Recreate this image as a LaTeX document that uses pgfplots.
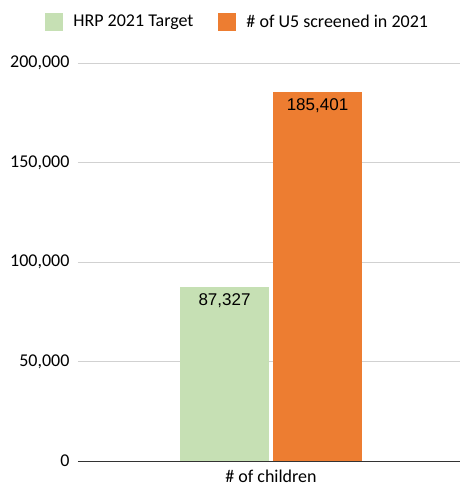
\documentclass[border=0pt]{standalone}
\usepackage{fontspec}
\setmainfont{Carlito}
\newfontfamily\arialfont{Liberation Sans}
\usepackage{pgfplots}
\pgfplotsset{compat=1.18}
\usetikzlibrary{calc}
\definecolor{hrpgreen}{HTML}{C6E0B4}
\definecolor{u5orange}{HTML}{ED7D31}
\begin{document}
\begin{tikzpicture}
\begin{axis}[name=ax, scale only axis, width=382pt, height=398pt,
  xmin=0, xmax=382, ymin=0, ymax=200000,
  ytick={0,50000,100000,150000,200000},
  yticklabels={0,{50,000},{100,000},{150,000},{200,000}},
  scaled y ticks=false,
  yticklabel style={font=\fontsize{18}{21}\selectfont, xshift=-5pt},
  xtick={193}, xticklabels={\# of children},
  xticklabel style={font=\fontsize{18}{21}\selectfont, yshift=-5pt},
  major tick length=0pt,
  ymajorgrids, grid style={draw=black!18, line width=0.8pt},
  axis x line*=bottom, axis y line*=left,
  y axis line style={draw=none},
  x axis line style={draw=black!80, line width=0.9pt, -},
  legend columns=2,
  legend style={draw=none, at={(axis description cs:0.418,1)}, anchor=south, yshift=30pt,
    font=\fontsize{18}{21}\selectfont, column sep=0pt,
    /tikz/every odd column/.append style={column sep=8pt},
    /tikz/every even column/.append style={column sep=23pt}},
  legend cell align=left,
  legend image code/.code={\fill[#1] (0pt,-9pt) rectangle (18pt,9pt);},
  point meta=explicit symbolic,
  nodes near coords,
  nodes near coords style={font=\arialfont\fontsize{17}{20}\selectfont, anchor=north, yshift=-3pt, text=black},
]
\addplot[ybar, bar shift=0pt, bar width=89, fill=hrpgreen, draw=none] coordinates {(146.5,87327) [87,327]};
\addlegendentry{HRP 2021 Target}
\addplot[ybar, bar shift=0pt, bar width=89, fill=u5orange, draw=none] coordinates {(239.5,185401) [185,401]};
\addlegendentry{\# of U5 screened in 2021}
\end{axis}
\pgfresetboundingbox
\path[use as bounding box] ($(ax.south west)+(-78pt,-26pt)$) rectangle ($(ax.north east)+(0pt,63pt)$);
\end{tikzpicture}
\end{document}
